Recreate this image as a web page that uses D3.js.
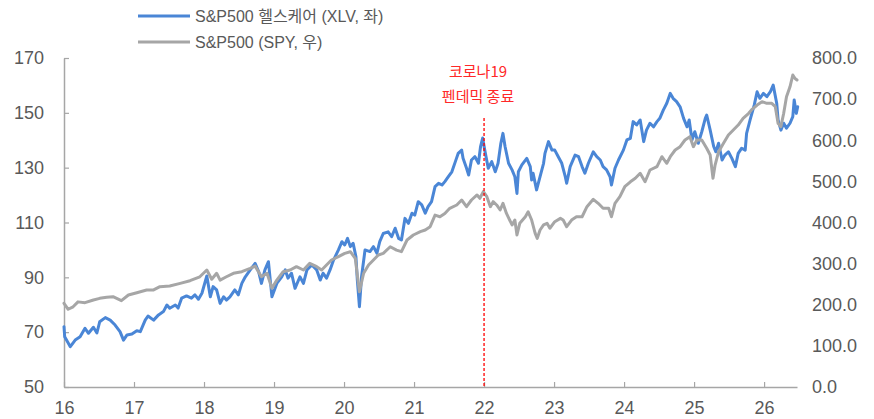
<!DOCTYPE html>
<html><head><meta charset="utf-8">
<script src="https://cdn.jsdelivr.net/npm/d3@7"></script>
<style>
body{margin:0;background:#fff}
text{font-family:"Liberation Sans",Arial,"Noto Sans CJK KR",sans-serif}
</style>
</head><body>
<svg id="chart" width="874" height="419"></svg>
<script>
// ---- data ----
const xlvYears = [2016.00,2016.01,2016.09,2016.16,2016.23,2016.30,2016.35,2016.42,2016.47,2016.51,2016.59,2016.66,2016.73,2016.80,2016.85,2016.90,2016.97,
2017.04,2017.09,2017.16,2017.20,2017.28,2017.35,2017.42,2017.47,2017.51,2017.59,2017.63,2017.68,2017.75,2017.82,2017.87,2017.92,2017.97,
2018.04,2018.09,2018.13,2018.18,2018.23,2018.28,2018.32,2018.37,2018.44,2018.49,2018.54,2018.59,2018.66,2018.73,2018.78,2018.82,2018.87,2018.92,2018.97,
2019.04,2019.11,2019.16,2019.20,2019.25,2019.30,2019.37,2019.42,2019.47,2019.54,2019.61,2019.66,2019.70,2019.75,2019.80,2019.85,2019.92,2019.97,
2020.01,2020.05,2020.09,2020.13,2020.17,2020.19,2020.22,2020.25,2020.30,2020.37,2020.42,2020.47,2020.51,2020.56,2020.63,2020.68,2020.73,2020.78,2020.82,2020.87,2020.92,2020.97,
2021.01,2021.06,2021.11,2021.16,2021.20,2021.25,2021.30,2021.35,2021.40,2021.44,2021.49,2021.54,2021.59,2021.63,2021.68,2021.70,2021.75,2021.78,2021.82,2021.87,2021.92,2021.95,2021.98,
2022.01,2022.06,2022.11,2022.16,2022.20,2022.24,2022.27,2022.30,2022.35,2022.40,2022.44,2022.47,2022.49,2022.54,2022.61,2022.66,2022.68,2022.70,2022.75,2022.80,2022.85,2022.87,2022.92,2022.97,
2023.01,2023.06,2023.11,2023.16,2023.18,2023.23,2023.30,2023.35,2023.40,2023.44,2023.49,2023.56,2023.61,2023.66,2023.70,2023.75,2023.80,2023.82,2023.87,2023.92,2023.99,
2024.04,2024.09,2024.13,2024.18,2024.23,2024.28,2024.32,2024.37,2024.42,2024.47,2024.51,2024.56,2024.61,2024.66,2024.70,2024.75,2024.80,2024.85,2024.90,2024.93,2024.97,
2025.01,2025.06,2025.11,2025.16,2025.18,2025.23,2025.28,2025.31,2025.35,2025.40,2025.44,2025.49,2025.54,2025.59,2025.63,2025.68,2025.73,2025.75,2025.80,2025.86,2025.90,2025.94,2025.99,
2026.04,2026.09,2026.13,2026.18,2026.20,2026.24,2026.28,2026.32,2026.37,2026.41,2026.43,2026.46,2026.48];
const xlvValues = [72.0,68.3,64.7,67.1,68.3,71.4,69.6,71.8,69.7,73.8,75.3,74.4,72.6,70.2,67.1,69.0,69.3,
70.5,70.2,74.4,75.9,74.4,76.3,77.5,79.9,78.7,79.9,78.8,82.4,83.2,82.4,83.6,82.0,84.2,
90.5,82.9,86.6,85.4,80.5,82.9,81.7,82.9,85.4,83.6,87.8,90.2,92.7,95.1,92.1,87.8,92.7,95.7,82.9,
87.8,90.2,92.7,89.7,91.5,86.0,90.2,87.8,92.7,94.5,92.7,89.0,91.5,89.7,92.7,96.3,100.0,103.0,
101.8,104.2,101.2,102.4,97.5,89.0,79.3,90.2,100.0,99.4,101.2,98.8,103.0,106.0,106.6,104.8,107.9,104.2,103.6,111.5,109.7,113.4,
112.7,117.6,116.4,113.4,115.8,117.6,123.1,124.3,123.7,124.9,126.7,128.5,132.2,135.2,136.4,133.4,129.8,127.3,132.8,134.0,131.6,137.7,140.8,
136.4,129.8,132.2,128.5,131.6,138.9,142.5,137.7,131.6,129.2,126.7,120.6,128.5,131.0,133.4,130.4,125.5,128.0,121.9,126.7,131.6,135.2,139.5,136.4,
136.4,134.0,131.6,126.7,124.3,130.4,134.6,134.0,130.4,128.0,131.6,135.8,134.0,132.8,130.4,129.2,126.7,123.7,129.8,132.8,136.4,
140.1,140.7,146.8,145.6,147.4,139.5,143.7,146.2,144.9,146.8,148.0,151.0,153.5,157.1,155.3,154.1,152.2,148.0,144.9,147.4,140.1,
143.1,138.9,143.1,148.0,149.2,143.7,137.7,135.8,138.9,132.8,134.6,135.8,133.4,130.4,135.2,137.1,136.4,142.5,147.4,152.9,157.7,155.3,157.1,
155.9,157.7,160.1,153.5,147.4,143.7,146.2,144.4,146.2,148.6,154.7,149.8,152.2];

const spyYears = [2016.00,2016.06,2016.13,2016.20,2016.30,2016.42,2016.51,2016.61,2016.70,2016.82,2016.92,
2017.04,2017.18,2017.28,2017.37,2017.51,2017.66,2017.80,2017.94,
2018.04,2018.11,2018.18,2018.23,2018.32,2018.42,2018.54,2018.66,2018.73,2018.82,2018.90,2018.97,
2019.04,2019.13,2019.23,2019.32,2019.42,2019.51,2019.61,2019.68,2019.75,2019.82,2019.92,
2020.01,2020.09,2020.16,2020.22,2020.28,2020.35,2020.42,2020.49,2020.56,2020.66,2020.75,2020.82,2020.90,2020.99,
2021.09,2021.16,2021.23,2021.30,2021.37,2021.44,2021.51,2021.61,2021.68,2021.75,2021.82,2021.90,2021.94,2021.99,
2022.04,2022.09,2022.13,2022.18,2022.23,2022.27,2022.32,2022.40,2022.44,2022.47,2022.51,2022.59,2022.63,2022.68,2022.73,2022.76,2022.80,2022.85,2022.90,2022.94,
2023.01,2023.09,2023.13,2023.18,2023.25,2023.32,2023.40,2023.47,2023.56,2023.63,2023.70,2023.78,2023.82,2023.87,2023.94,
2024.01,2024.09,2024.16,2024.23,2024.30,2024.37,2024.47,2024.54,2024.61,2024.66,2024.73,2024.80,2024.87,2024.94,2024.99,
2025.04,2025.11,2025.18,2025.23,2025.27,2025.30,2025.35,2025.42,2025.49,2025.56,2025.63,2025.70,2025.78,2025.82,2025.90,2025.97,
2026.04,2026.11,2026.16,2026.20,2026.24,2026.28,2026.32,2026.37,2026.41,2026.44,2026.47];
const spyValues = [203.5,189,195,207,205,211.6,215.6,218,219.6,210,223.7,
229.3,236,236,244,245.6,252,258.5,268,
284.5,262,276.5,260,268,276.5,280.4,288.6,294,268,276.5,240,
260,280.4,284.5,292.6,284.5,300.8,292.6,284.5,296.7,308.8,316.9,
325,329,313,231.7,276.5,296.7,308.8,321,325,341,333,329,357.4,369.6,
377.7,381.8,389.8,418,414,422,434.5,442.6,454.7,438.4,454.7,466.9,458.8,475,
462.8,438.4,450.6,442.6,430.4,446.7,422,394,406,369.6,398,414,426,406,373.7,361.5,381.8,394,398,386,
402,410,406,389.8,406,414,414,438.4,456.4,446.7,434.5,434.5,414,446.7,462.8,
487,499,507.5,519.6,499,527.7,535.7,560,544,560,576.3,584.3,600.6,608.7,584.3,
600.6,600.6,580.4,564,507.5,539.8,572.2,592.5,612.8,625,637,653.4,665.5,673.6,685.7,693.8,
689.8,689.8,681.6,641,633,665.5,706,730,758.7,750.6,746.5];

const leftTicks  = [50,70,90,110,130,150,170];
const rightTicks = [0,100,200,300,400,500,600,700,800];
const yearTicks  = [2016,2017,2018,2019,2020,2021,2022,2023,2024,2025,2026];
const yearLabels = ["16","17","18","19","20","21","22","23","24","25","26"];
const seriesNames = ["S&P500 헬스케어 (XLV, 좌)","S&P500 (SPY, 우)"];
const seriesColors = ["#4a86d6","#a6a6a6"];
const eventYear = 2022;
const eventLabel = ["코로나19","펜데믹 종료"];

// ---- chart ----
const svg = d3.select("#chart");
const x = d3.scaleLinear().domain([2016, 2026.47]).range([64, 797]);
const yL = d3.scaleLinear().domain([50,170]).range([387,58]);
const yR = d3.scaleLinear().domain([0,800]).range([387,58]);
const axisColor = "#a6a6a6", textColor = "#595959";

// left axis
const gL = svg.append("g").attr("transform","translate(64,0)")
  .call(d3.axisLeft(yL).tickValues(leftTicks).tickSizeInner(-5).tickSizeOuter(0).tickPadding(20).tickFormat(d3.format("d")));
// right axis (labels only)
const gR = svg.append("g").attr("transform","translate(797,0)")
  .call(d3.axisRight(yR).tickValues(rightTicks).tickSize(0).tickPadding(15).tickFormat(d3.format(".1f")));
gR.select(".domain").remove();
// bottom axis
const gB = svg.append("g").attr("transform","translate(0,387)")
  .call(d3.axisBottom(x).tickValues(yearTicks).tickSizeInner(-5).tickSizeOuter(0).tickPadding(14)
    .tickFormat((d,i)=>yearLabels[i]));

[gL,gR,gB].forEach(g=>{
  g.selectAll(".domain").attr("stroke",axisColor).attr("stroke-width",1.5);
  g.selectAll(".tick line").attr("stroke",axisColor).attr("stroke-width",1.2);
  g.selectAll(".tick text").attr("fill",textColor).style("font-size","18px")
    .style("font-family","'Liberation Sans',Arial,sans-serif");
});

// lines
const lineL = d3.line().x(d=>x(d[0])).y(d=>yL(d[1])).curve(d3.curveLinear);
const lineR = d3.line().x(d=>x(d[0])).y(d=>yR(d[1])).curve(d3.curveLinear);
svg.append("path").datum(d3.zip(xlvYears,xlvValues)).attr("d",lineL)
  .attr("fill","none").attr("stroke",seriesColors[0]).attr("stroke-width",3)
  .attr("stroke-linejoin","round").attr("stroke-linecap","round");
svg.append("path").datum(d3.zip(spyYears,spyValues)).attr("d",lineR)
  .attr("fill","none").attr("stroke",seriesColors[1]).attr("stroke-width",3)
  .attr("stroke-linejoin","round").attr("stroke-linecap","round");

// event line
svg.append("line").attr("x1",x(eventYear)).attr("x2",x(eventYear))
  .attr("y1",118).attr("y2",387).attr("stroke","#ff0000").attr("stroke-width",1.3)
  .attr("stroke-dasharray","3,2");
svg.append("g").selectAll("text").data(eventLabel).join("text")
  .attr("x",x(eventYear)-6).attr("y",(d,i)=>77+i*25).attr("text-anchor","middle")
  .attr("fill","#ff2828").style("font-size","15px")
  .style("font-family","'Noto Sans CJK KR',sans-serif").text(d=>d);

// legend
const lg = svg.append("g").selectAll("g").data(seriesNames).join("g")
  .attr("transform",(d,i)=>`translate(138,${16+i*26})`);
lg.append("line").attr("x1",0).attr("x2",52).attr("y1",0).attr("y2",0)
  .attr("stroke",(d,i)=>seriesColors[i]).attr("stroke-width",3);
lg.append("text").attr("x",57).attr("dy","0.35em").attr("fill",textColor)
  .style("font-size","16px").text(d=>d);
</script>
</body></html>
